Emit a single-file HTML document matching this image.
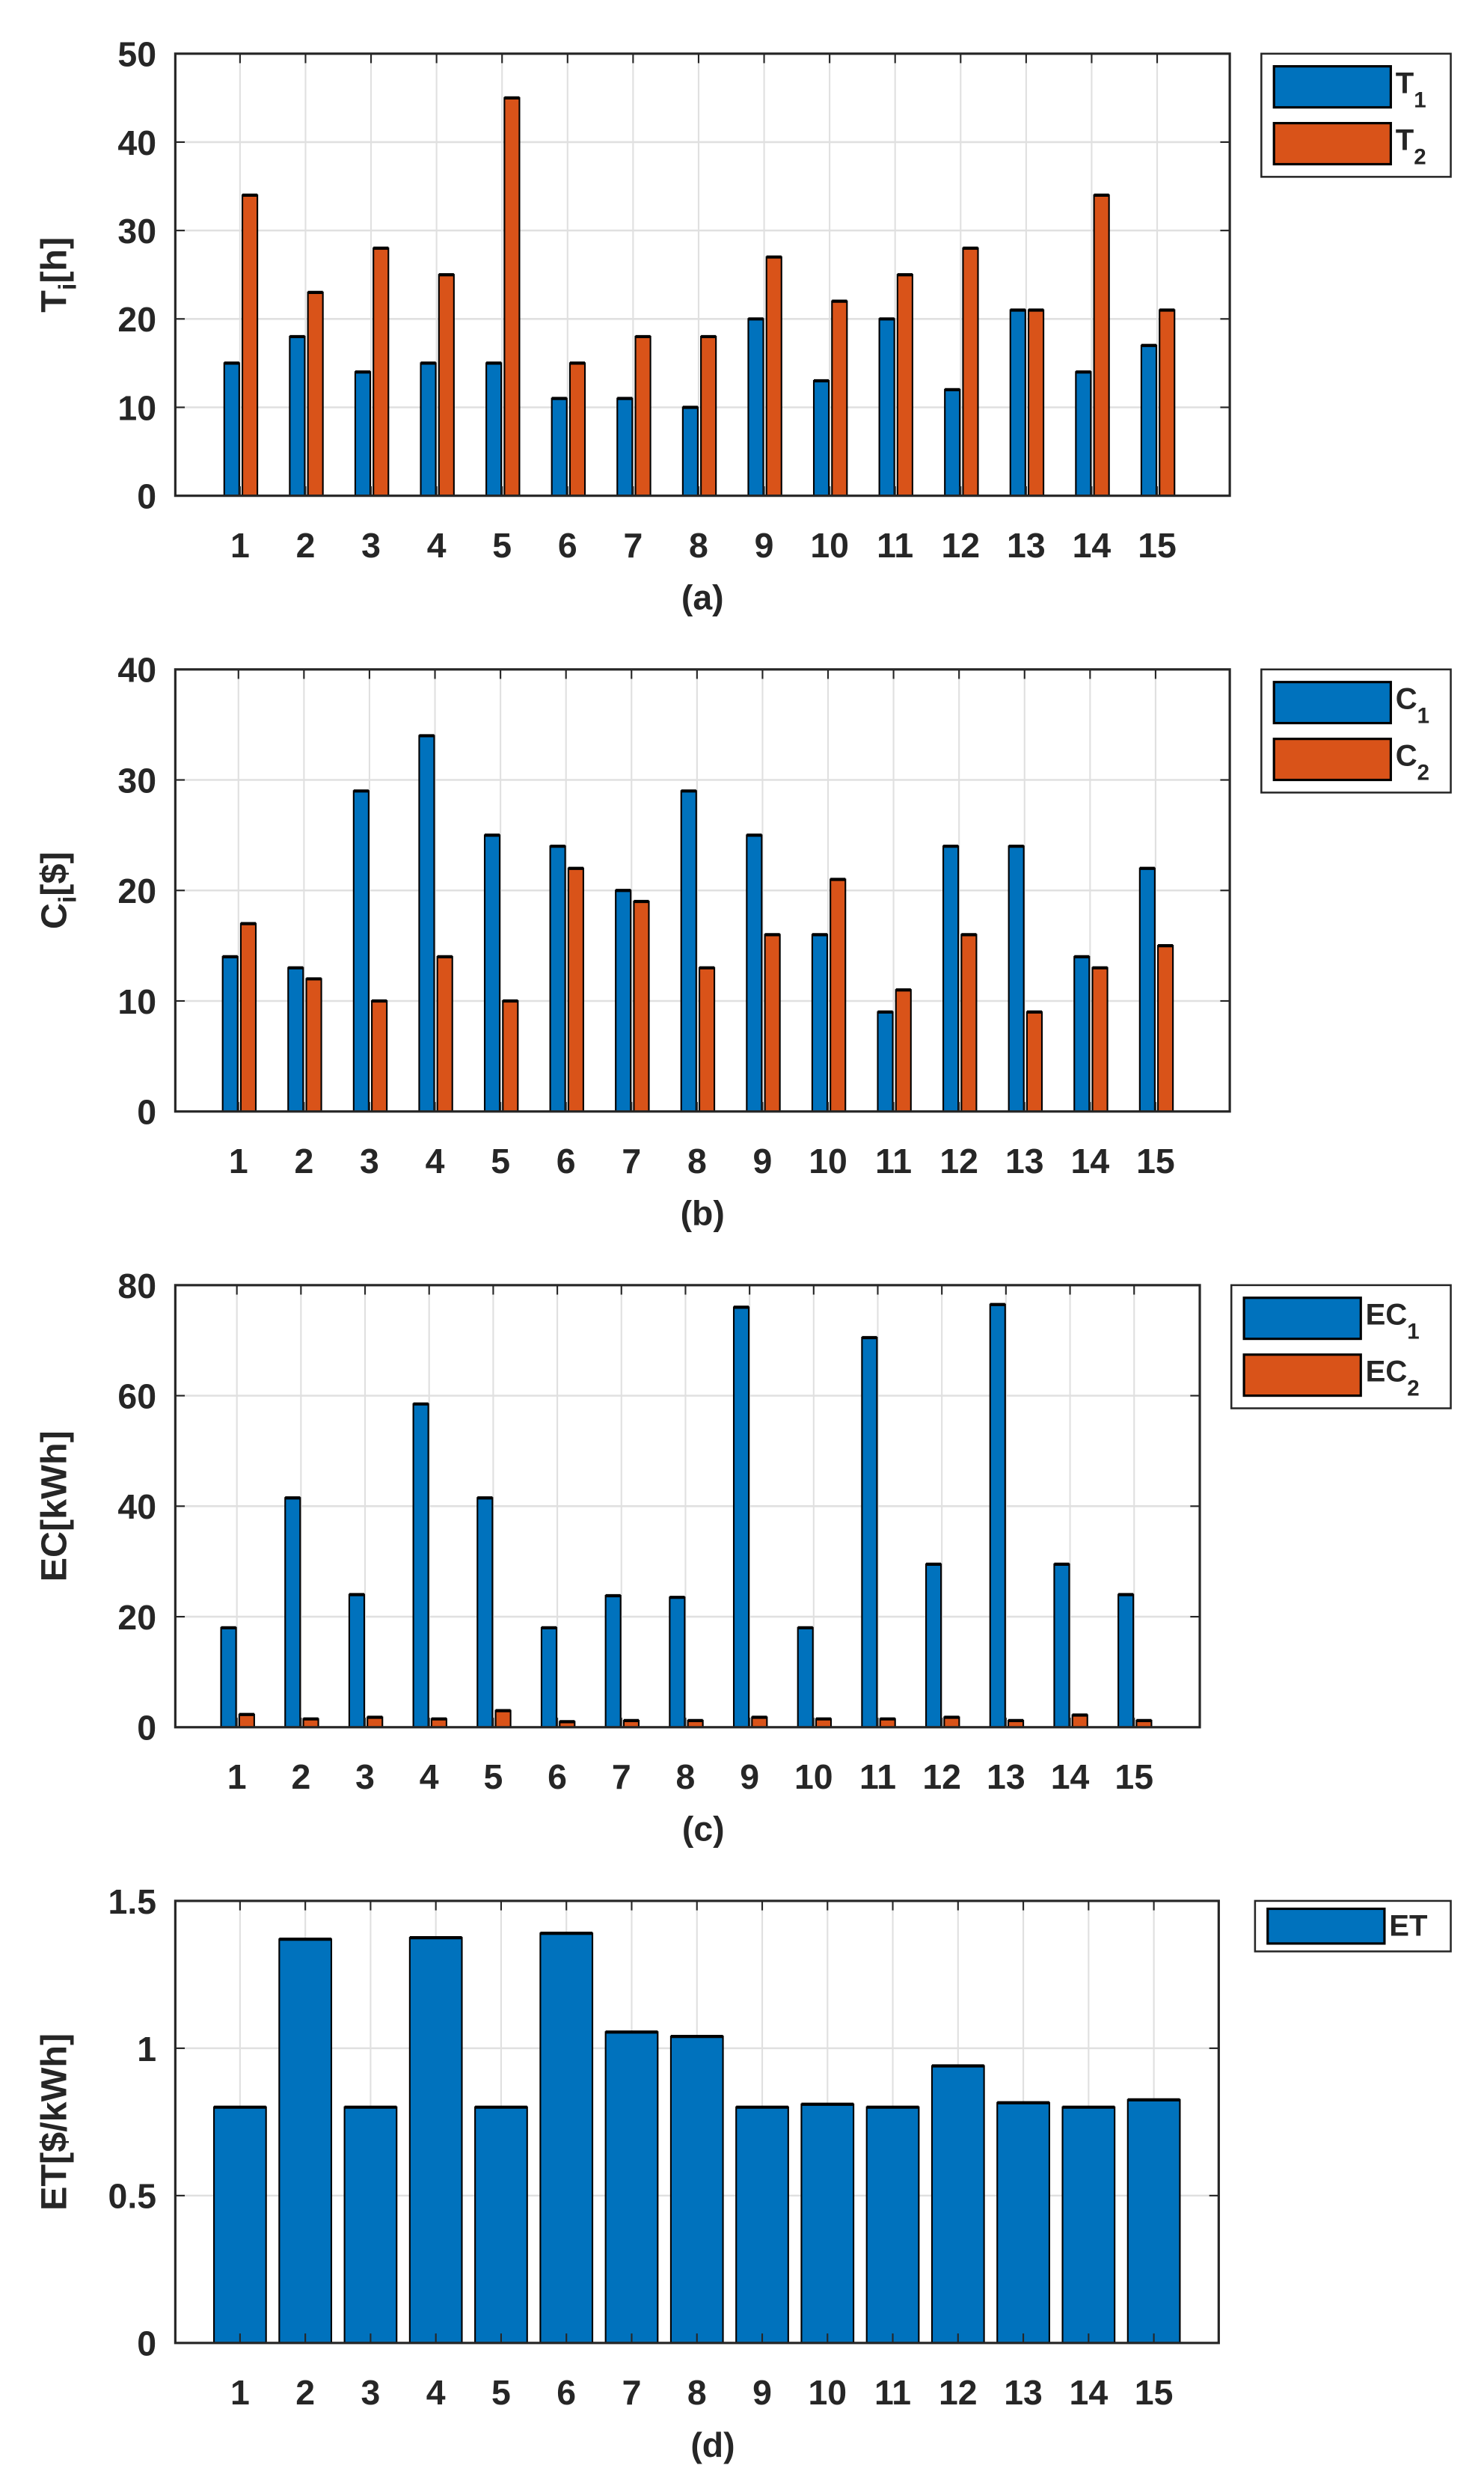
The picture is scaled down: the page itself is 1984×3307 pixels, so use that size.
<!DOCTYPE html>
<html><head><meta charset="utf-8"><style>
html,body{margin:0;padding:0;background:#fff;}
svg{display:block;}
text{font-family:"Liberation Sans",sans-serif;font-weight:bold;fill:#262626;}
</style></head><body>
<svg id="s" width="1984" height="3307" viewBox="0 0 940 1567" xmlns="http://www.w3.org/2000/svg"></svg>
<script>
const S=document.getElementById('s');let h='';
const B='#0072BD',O='#D95319';
function panel(p){
 const {x0,x1,y0,y1,ymax,yt,tl,c0,dc,series,bw,lab,cap,leg}=p;
 const Y=v=>y1-(v/ymax)*(y1-y0);
 h+=`<rect x="${x0}" y="${y0}" width="${x1-x0}" height="${y1-y0}" fill="#fff"/>`;
 for(let i=0;i<15;i++){const c=c0+i*dc;h+=`<line x1="${c}" y1="${y0}" x2="${c}" y2="${y1}" stroke="#e0e0e0" stroke-width="1"/>`;}
 yt.forEach((v,k)=>{const y=Y(v);if(v>0&&v<ymax)h+=`<line x1="${x0}" y1="${y}" x2="${x1}" y2="${y}" stroke="#e0e0e0" stroke-width="1.2"/>`;
  h+=`<line x1="${x0}" y1="${y}" x2="${x0+6}" y2="${y}" stroke="#262626"/><line x1="${x1-6}" y1="${y}" x2="${x1}" y2="${y}" stroke="#262626"/>`;
  h+=`<text x="${x0-12}" y="${y+8}" font-size="22" text-anchor="end">${tl[k]}</text>`;});
 for(let i=0;i<15;i++){const c=c0+i*dc;
  series.forEach(s=>{const v=s.d[i];const y=Y(v);h+=`<rect x="${c+s.o}" y="${y}" width="${bw}" height="${y1-y}" fill="${s.c}" stroke="#000" stroke-width="1"/><line x1="${c+s.o}" y1="${y}" x2="${c+s.o+bw}" y2="${y}" stroke="#000" stroke-width="2"/>`;});
  h+=`<line x1="${c}" y1="${y0}" x2="${c}" y2="${y0+6}" stroke="#262626"/><line x1="${c}" y1="${y1}" x2="${c}" y2="${y1-6}" stroke="#262626"/>`;
  h+=`<text x="${c}" y="${y1+39}" font-size="22" text-anchor="middle">${i+1}</text>`;}
 h+=`<rect x="${x0}" y="${y0}" width="${x1-x0}" height="${y1-y0}" fill="none" stroke="#262626" stroke-width="1.5"/>`;
 h+=`<text transform="translate(42,${(y0+y1)/2}) rotate(-90)" font-size="23" text-anchor="middle">${lab}</text>`;
 h+=`<text x="${(x0+x1)/2+(x1<779?10:0)}" y="${y1+72}" font-size="22" text-anchor="middle">${cap}</text>`;
 const L=leg;h+=`<rect x="${L.x}" y="${y0}" width="${919-L.x}" height="${L.h}" fill="#fff" stroke="#262626" stroke-width="1.2"/>`;
 L.items.forEach((it,k)=>{const sh=L.sh||26;const yy=y0+(L.sh?5:8)+k*36;h+=`<rect x="${L.x+8}" y="${yy}" width="74" height="${sh}" fill="${it.c}" stroke="#000" stroke-width="1.5"/>`;
  h+=`<text x="${L.x+85}" y="${yy+(L.sh?17:17)}" font-size="19">${it.t}${it.s?`<tspan font-size="14" dy="9">${it.s}</tspan>`:''}</text>`;});
}
panel({x0:111,x1:779,y0:34,y1:314,ymax:50,yt:[0,10,20,30,40,50],tl:['0','10','20','30','40','50'],c0:152,dc:41.5,bw:9.5,
 series:[{d:[15,18,14,15,15,11,11,10,20,13,20,12,21,14,17],c:B,o:-10},{d:[34,23,28,25,45,15,18,18,27,22,25,28,21,34,21],c:O,o:1.5}],
 lab:'T<tspan font-size="16" dy="6">i</tspan><tspan dy="-6">[h]</tspan>',cap:'(a)',leg:{x:799,h:78,items:[{c:B,t:'T',s:'1'},{c:O,t:'T',s:'2'}]}});
panel({x0:111,x1:779,y0:424,y1:704,ymax:40,yt:[0,10,20,30,40],tl:['0','10','20','30','40'],c0:151,dc:41.5,bw:9.5,
 series:[{d:[14,13,29,34,25,24,20,29,25,16,9,24,24,14,22],c:B,o:-10},{d:[17,12,10,14,10,22,19,13,16,21,11,16,9,13,15],c:O,o:1.5}],
 lab:'C<tspan font-size="16" dy="6">i</tspan><tspan dy="-6">[$]</tspan>',cap:'(b)',leg:{x:799,h:78,items:[{c:B,t:'C',s:'1'},{c:O,t:'C',s:'2'}]}});
panel({x0:111,x1:760,y0:814,y1:1094,ymax:80,yt:[0,20,40,60,80],tl:['0','20','40','60','80'],c0:150,dc:40.6,bw:9.5,
 series:[{d:[18,41.5,24,58.5,41.5,18,23.8,23.5,76,18,70.5,29.5,76.5,29.5,24],c:B,o:-10},{d:[2.3,1.5,1.8,1.5,3,1,1.2,1.2,1.8,1.5,1.5,1.8,1.2,2.2,1.2],c:O,o:1.5}],
 lab:'EC[kWh]',cap:'(c)',leg:{x:780,h:78,items:[{c:B,t:'EC',s:'1'},{c:O,t:'EC',s:'2'}]}});
panel({x0:111,x1:772,y0:1204,y1:1484,ymax:1.5,yt:[0,0.5,1,1.5],tl:['0','0.5','1','1.5'],c0:152,dc:41.35,bw:33,
 series:[{d:[0.8,1.37,0.8,1.375,0.8,1.39,1.055,1.04,0.8,0.81,0.8,0.94,0.815,0.8,0.825],c:B,o:-16.5}],
 lab:'ET[$/kWh]',cap:'(d)',leg:{x:795,h:32,sh:22,items:[{c:B,t:'ET'}]}});
S.innerHTML=h;
</script>
</body></html>
